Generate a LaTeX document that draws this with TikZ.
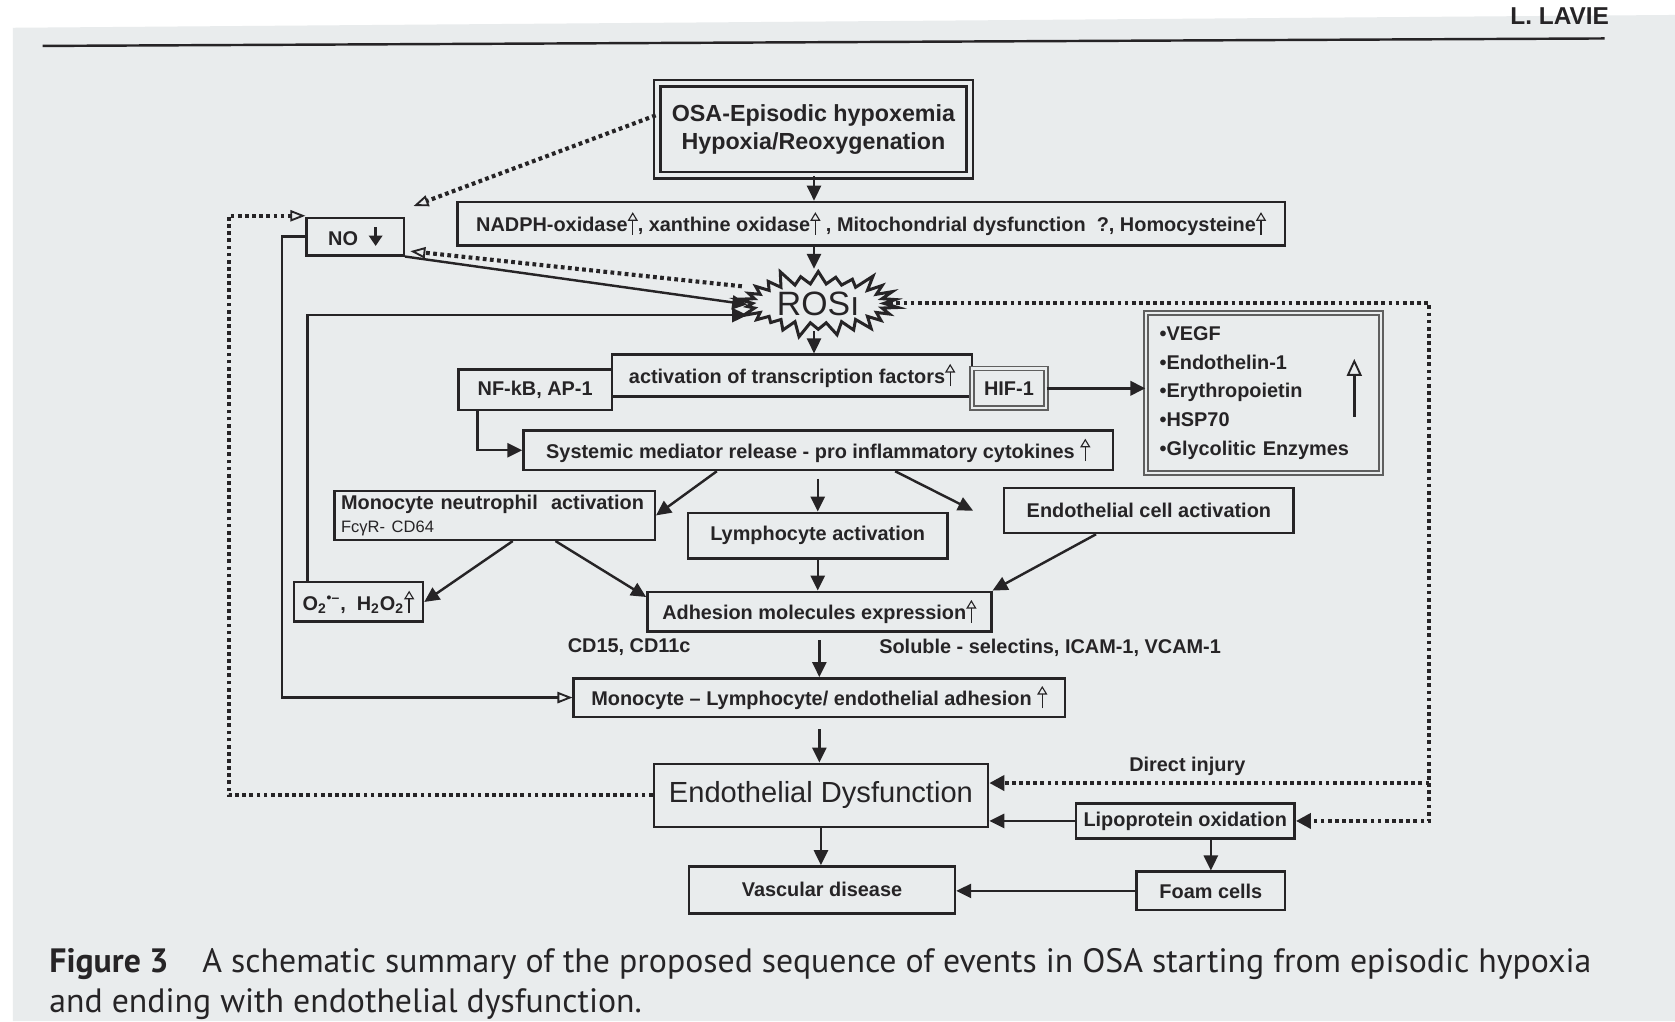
\documentclass[tikz,border=0pt]{standalone}
\usepackage{fontspec}
\setmainfont{Liberation Sans}
\newfontfamily\capfont{PT Sans}
\usetikzlibrary{arrows.meta, shapes.symbols, calc}

\definecolor{page}{RGB}{233,236,237}
\definecolor{ink}{RGB}{38,36,38}
\definecolor{frame}{RGB}{95,95,95}

\newcommand{\boxfont}{\fontsize{10.6}{12.5}\selectfont\bfseries}
% small hollow "increase" arrow and filled "decrease" arrow set inside the text
\newcommand{\incr}{\tikz[baseline=0pt]\draw[ink, line width=0.7pt, -{Triangle[open, length=4.6pt, width=5.4pt, line width=0.6pt]}] (0pt,-1.5pt) -- (0pt,10.5pt);}
\newcommand{\decr}{\tikz[baseline=0pt]\draw[ink, line width=1.6pt, -{Triangle[length=5.5pt, width=7pt]}] (0pt,10pt) -- (0pt,0pt);}

\begin{document}
\begin{tikzpicture}[
    x=0.02cm, y=-0.02cm,
    box/.style={draw=ink, line width=1.3pt, fill=page, text=ink, align=center, inner sep=2pt, font=\boxfont},
    grayframe/.style={box, draw=frame, double=page, double distance=1.3pt, line width=0.9pt},
    osabox/.style={box, double=page, double distance=2pt, line width=1.4pt, font=\fontsize{12.4}{15}\selectfont\bfseries},
    note/.style={text=ink, inner sep=1pt, font=\boxfont},
    arrow/.style={ink, line width=1.3pt, -{Triangle[length=8pt, width=7.5pt]}},
    openarrow/.style={ink, line width=1.3pt, -{Triangle[open, length=8pt, width=6pt, line width=1pt]}},
    dotline/.style={ink, line width=2.2pt, dash pattern=on 2pt off 1.8pt},
    dotarrow/.style={dotline, -{Triangle[length=8pt, width=8pt]}},
    dotopen/.style={dotline, -{Triangle[open, length=8pt, width=6pt, line width=1pt]}}
]
    \useasboundingbox (0,0) rectangle (1568,956);
    \fill[white] (0,0) rectangle (1568,956);
    \fill[page] (12,26) -- (1568,14) -- (1568,956) -- (12,956) -- cycle;

    % running head
    \node[text=ink, font=\fontsize{13}{13}\selectfont\bfseries] (hdr) at (1460,15) {L. LAVIE};
    \draw[ink, line width=1.3pt] (40,43) -- (1502,36);

    % boxes
    \node[osabox, minimum width=5.86cm, minimum height=1.72cm] (osa) at (761.5,121) {OSA-Episodic hypoxemia\\Hypoxia/Reoxygenation};
    \node[box, minimum width=15.5cm, minimum height=0.82cm] (nadph) at (815.5,209.5) {NADPH-oxidase\incr, xanthine oxidase\incr\ , Mitochondrial dysfunction\ \ ?, Homocysteine\incr};
    \node[box, minimum width=1.82cm, minimum height=0.7cm] (no) at (332.5,221.5) {NO\ \ \decr};
    \node[starburst, draw=ink, line width=1.6pt, fill=page, text=ink, starburst points=26, starburst point height=0.32cm, minimum width=3.1cm, minimum height=1cm, inner sep=1pt, font=\fontsize{18}{18}\selectfont] (ros) at (766,284) {ROSı};
    \node[box, minimum width=6.74cm, minimum height=0.78cm] (act) at (741.5,351.5) {activation of transcription factors\incr};
    \node[box, minimum width=2.88cm, minimum height=0.76cm] (nfkb) at (501,365) {NF-kB, AP-1};
    \node[grayframe, minimum width=1.38cm, minimum height=0.74cm] (hif) at (944.5,363.5) {HIF-1};
    \node[grayframe, minimum width=4.4cm, minimum height=3cm, text width=3.9cm, align=left, font=\fontsize{10.6}{15.3}\selectfont\bfseries] (list) at (1183,368) {•VEGF\\•Endothelin-1\\•Erythropoietin\\•HSP70\\•Glycolitic Enzymes};
    \node[box, minimum width=11.04cm, minimum height=0.74cm] (sys) at (766,421.5) {Systemic mediator release - pro inflammatory cytokines\ \incr};
    \node[box, minimum width=6cm, minimum height=0.9cm, text width=5.75cm, align=left] (mono) at (463,482.5) {Monocyte neutrophil\ \ activation\\{\fontsize{8.8}{10}\selectfont\mdseries FcγR- CD64}};
    \node[box, minimum width=4.86cm, minimum height=0.86cm] (lym) at (765.5,501.5) {Lymphocyte activation};
    \node[box, minimum width=5.42cm, minimum height=0.84cm] (endc) at (1075.5,478) {Endothelial cell activation};
    \node[box, minimum width=2.42cm, minimum height=0.74cm] (oxy) at (335.5,563.5) {O\textsubscript{2}\textsuperscript{•–},\ \ H\textsubscript{2}O\textsubscript{2}\incr};
    \node[box, minimum width=6.44cm, minimum height=0.74cm] (adh) at (767,572.5) {Adhesion molecules expression\incr};
    \node[note] (cdlab) at (589,606) {CD15, CD11c};
    \node[note] (sollab) at (983,606) {Soluble - selectins, ICAM-1, VCAM-1};
    \node[box, minimum width=9.2cm, minimum height=0.72cm] (mla) at (767,653) {Monocyte – Lymphocyte/ endothelial adhesion\ \incr};
    \node[box, minimum width=6.26cm, minimum height=1.18cm, font=\fontsize{15.5}{18}\selectfont] (endo) at (768.5,744.5) {Endothelial Dysfunction};
    \node[box, minimum width=4.98cm, minimum height=0.88cm] (vasc) at (769.5,833) {Vascular disease};
    \node[box, minimum width=4.1cm, minimum height=0.66cm] (lipo) at (1109.5,768.5) {Lipoprotein oxidation};
    \node[box, minimum width=2.78cm, minimum height=0.72cm] (foam) at (1133.5,834) {Foam cells};

    % helper coordinates for the long connectors
    \coordinate (spine) at (762,0);
    \coordinate (rgt) at (1338,285);
    \coordinate (inj) at (1338,733);
    \coordinate (lft) at (214,202);
    \coordinate (mid) at (264,0);

    % main column
    \draw[arrow] (osa.south -| spine) -- (nadph.north -| spine);
    \draw[arrow] (nadph.south -| spine) -- (ros.north -| spine);
    \draw[arrow] (ros.south -| spine) -- (act.north -| spine);
    \draw[arrow] ([xshift=-1.08cm]nfkb.south) |- (sys.west);
    \draw[arrow, line width=1.8pt] (hif.east) -- (hif.east -| list.west);
    \draw[ink, line width=1.6pt, -{Triangle[open, length=9pt, width=8pt, line width=1pt]}] ([xshift=-0.52cm, yshift=-0.44cm]list.east) -- ([xshift=-0.52cm, yshift=0.64cm]list.east);
    \draw[arrow] ([xshift=-1.9cm]sys.south) -- (mono.east);
    \draw[arrow, shorten <=4pt] (sys.south -| lym) -- (lym.north);
    \draw[arrow] ([xshift=1.44cm]sys.south) -- ([xshift=-0.56cm]endc.west);
    \draw[arrow] ([xshift=0.34cm]mono.south) -- (oxy.east);
    \draw[arrow] ([xshift=1.14cm]mono.south) -- ([yshift=-0.12cm]adh.north west);
    \draw[arrow] (lym.south) -- (lym.south |- adh.north);
    \draw[arrow] ([xshift=-0.99cm]endc.south) -- (adh.north east);
    \draw[arrow, shorten <=4pt] (adh.south) -- (mla.north);
    \draw[arrow, shorten <=6pt] (mla.south) -- (mla.south |- endo.north);
    \draw[arrow] (endo.south) -- (endo.south |- vasc.north);
    \draw[arrow] (lipo.west) -- (lipo.west -| endo.east);
    \draw[arrow] (lipo.south -| foam) -- (foam.north);
    \draw[arrow] (foam.west) -- (foam.west -| vasc.east);

    % feedback loops round NO and ROS
    \draw[arrow] ([xshift=-0.95cm]oxy.north) |- ([yshift=-0.22cm]ros.west);
    \draw[arrow] (no.south east) -- ([yshift=-0.02cm]ros.west);
    \draw[openarrow] (no.west) -- (no.west -| mid) |- (mla.west);
    \draw[dotopen] ([yshift=0.32cm, xshift=-0.1cm]ros.west) -- ([xshift=0.1cm, yshift=0.1cm]no.south east);
    \draw[dotopen] ([yshift=0.26cm]osa.west) -- ([xshift=0.16cm, yshift=0.2cm]no.north east);
    \draw[dotopen] (endo.west) -| (lft) -- (lft -| no.west);
    \draw[dotarrow] (ros.east) -- (ros.east -| rgt) |- (lipo.east);
    \draw[dotarrow] (inj) -- (inj -| endo.east) node[note, pos=0.55, above=2pt] {Direct injury};

    % caption
    \node[anchor=west, align=left, text=ink, font=\capfont\fontsize{18}{21.5}\selectfont] (cap) at (40,921) {\textbf{Figure 3}\hspace{1em}A schematic summary of the proposed sequence of events in OSA starting from episodic hypoxia\\and ending with endothelial dysfunction.};
\end{tikzpicture}
\end{document}
